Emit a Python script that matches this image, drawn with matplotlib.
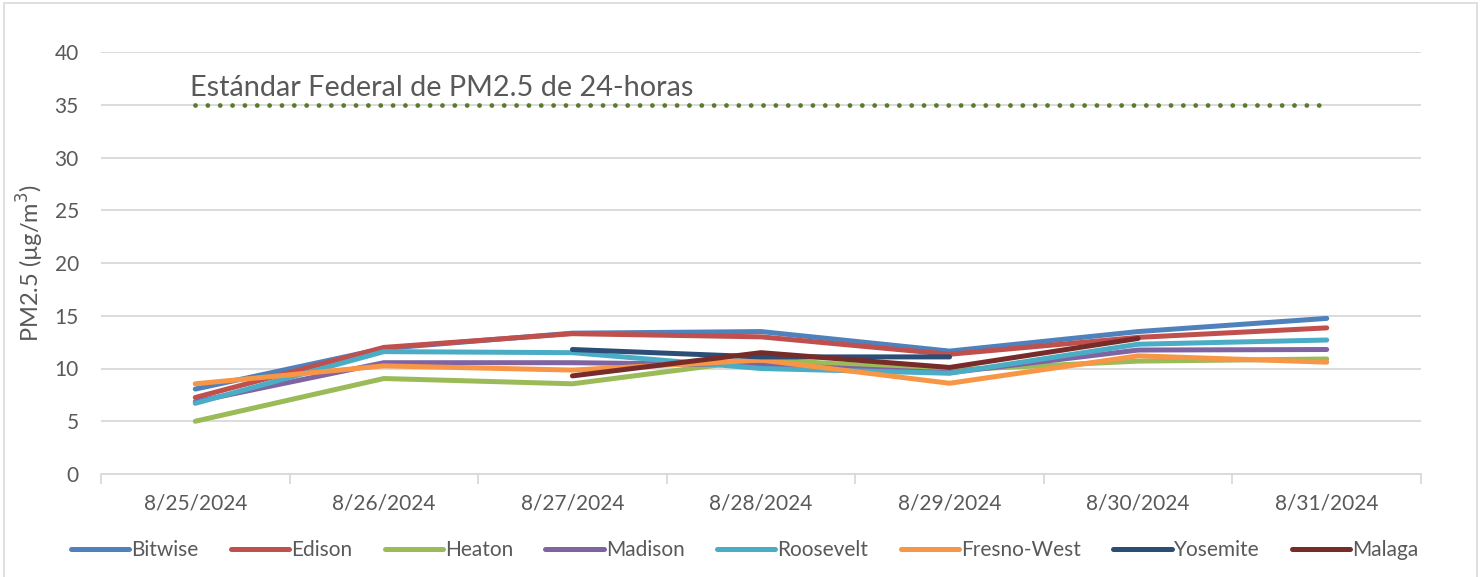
import matplotlib
matplotlib.use("Agg")
import matplotlib.pyplot as plt
from matplotlib.patches import Rectangle
import numpy as np

dates = ["8/25/2024", "8/26/2024", "8/27/2024", "8/28/2024", "8/29/2024", "8/30/2024", "8/31/2024"]
nan = np.nan
bitwise   = [8.05, 11.9, 13.35, 13.5, 11.65, 13.5, 14.75]
edison    = [7.25, 12.0, 13.3, 13.0, 11.35, 12.95, 13.85]
heaton    = [5.0, 9.05, 8.55, 10.85, 9.85, 10.7, 10.9]
madison   = [6.85, 10.55, 10.55, 10.35, 9.6, 11.75, 11.8]
roosevelt = [6.7, 11.6, 11.5, 10.0, 9.55, 12.3, 12.7]
fresno    = [8.55, 10.25, 9.85, 10.8, 8.6, 11.2, 10.6]
yosemite  = [nan, nan, 11.8, 11.1, 11.1, nan, nan]
malaga    = [nan, nan, 9.3, 11.5, 10.1, 12.85, nan]
standard  = [35] * 7

series_names = ["Bitwise", "Edison", "Heaton", "Madison", "Roosevelt", "Fresno-West", "Yosemite", "Malaga"]
series_vals = [bitwise, edison, heaton, madison, roosevelt, fresno, yosemite, malaga]
colors = ["#4F81BD", "#C0504D", "#9BBB59", "#8064A2", "#4BACC6", "#F79646", "#2C4D75", "#772C2A"]

plt.rcParams['font.family'] = ['Lato', 'DejaVu Sans']
txt = "#595959"
W, H = 1483, 577
fig = plt.figure(figsize=(W / 100, H / 100), dpi=100)
ax = fig.add_axes([101 / W, 1 - 474 / H, (1421 - 101) / W, (474 - 52) / H])

x = np.arange(len(dates))
lw = 5 * 72 / 100
for name, vals, c in zip(series_names, series_vals, colors):
    ax.plot(x, vals, color=c, lw=lw, solid_capstyle='round', solid_joinstyle='round', label=name, zorder=3)

std_lw = 4.8 * 72 / 100
std_line, = ax.plot(x, standard, color="#5A7A2E", lw=std_lw, zorder=2)
std_line.set_dashes([0.01, (12.3 * 72 / 100) / std_lw])
std_line.set_dash_capstyle('round')

ax.text(-0.03, 35.35, "Estándar Federal de PM2.5 de 24-horas", color=txt, fontsize=20.8, va='bottom', ha='left')

ax.set_xlim(-0.5, len(dates) - 0.5)
ax.set_ylim(0, 40)
ax.set_yticks(np.arange(0, 41, 5))
ax.yaxis.grid(True, color="#D9D9D9", lw=1.3)
ax.set_axisbelow(True)
for s in ["left", "right", "top"]:
    ax.spines[s].set_visible(False)
ax.spines["bottom"].set_color("#D9D9D9")
ax.spines["bottom"].set_linewidth(1.3)
ax.set_xticks(x)
ax.set_xticklabels(dates)
ax.set_xticks(np.arange(-0.5, len(dates), 1), minor=True)
ax.tick_params(axis='x', which='major', length=0, pad=14, labelsize=15, labelcolor=txt)
ax.tick_params(axis='x', which='minor', length=7, width=1.3, color="#D9D9D9", direction='out')
ax.tick_params(axis='y', length=0, pad=16, labelsize=15, labelcolor=txt)
ax.set_ylabel("PM2.5 (µg/m$^3$)", fontsize=17, color=txt, labelpad=6)

leg = fig.legend(*ax.get_legend_handles_labels(), loc='center', bbox_to_anchor=(0.502, 1 - 550 / H), ncol=8,
                 frameon=False, fontsize=15, handlelength=2.8, handletextpad=0.1, columnspacing=1.55,
                 labelcolor=txt)

fig.add_artist(Rectangle((4 / W, -0.01), (1477 - 4) / W, 1 - 3 / H + 0.01, transform=fig.transFigure,
                         fill=False, edgecolor="#D9D9D9", lw=1.2))

fig.savefig("out.png", dpi=100)
